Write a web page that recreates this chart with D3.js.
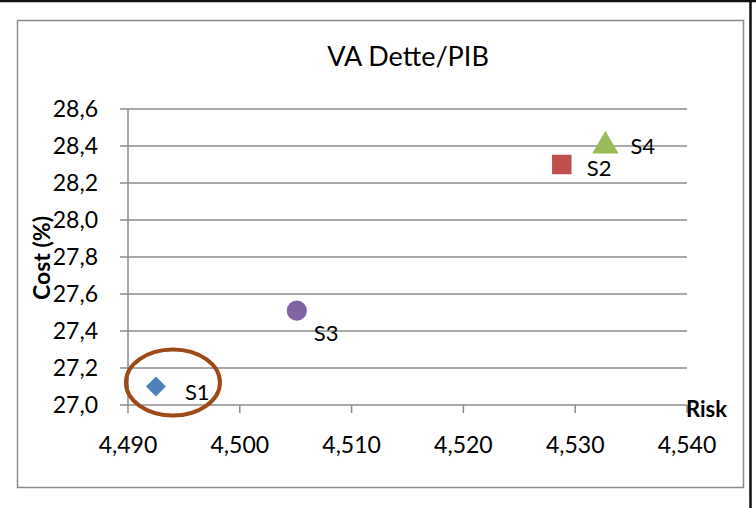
<!DOCTYPE html>
<html>
<head>
<meta charset="utf-8">
<script src="https://cdn.jsdelivr.net/npm/d3@7"></script>
<style>
  body { margin: 0; background: #fff; }
  svg { display: block; font-family: Lato, "Open Sans", sans-serif; }
</style>
</head>
<body>
<div id="chart"></div>
<script>
// Datos del grafico
const series = ["S1", "S2", "S3", "S4"];
const risk = [4.4925, 4.5288, 4.5051, 4.5327];
const cost = [27.10, 28.30, 27.51, 28.40];
const xTicks = [4.49, 4.50, 4.51, 4.52, 4.53, 4.54];
const yTicks = [27.0, 27.2, 27.4, 27.6, 27.8, 28.0, 28.2, 28.4, 28.6];

const colores = ["#4f81bd", "#c0504d", "#8064a2", "#9bbb59"];
const simbolos = [d3.symbolSquare, d3.symbolSquare, d3.symbolCircle, d3.symbolTriangle];
const rotacion = [45, 0, 0, 0];
const tamanos = [200, 380, 320, 300];
const labelOffset = [[29, 13], [25, 11], [17, 30], [25, 8]];

const WIDTH = 756;
const HEIGHT = 508;
const PLOT = { left: 128, right: 687, top: 109, bottom: 405 };

const fmt = d => d3.format(",.3f")(d).replace(".", ",");
const fmtY = d => d3.format(".1f")(d).replace(".", ",");

const svg = d3.select("#chart")
    .append("svg")
    .attr("width", WIDTH)
    .attr("height", HEIGHT);

// marco exterior
svg.append("rect")
    .attr("x", 17.5).attr("y", 20.5)
    .attr("width", 726).attr("height", 467)
    .attr("fill", "#fff")
    .attr("stroke", "#8c8c8c")
    .attr("stroke-width", 1.5);

svg.append("line")
    .attr("x1", 0).attr("x2", WIDTH).attr("y1", 1).attr("y2", 1)
    .attr("stroke", "#111").attr("stroke-width", 2.5);
svg.append("line")
    .attr("x1", 750.5).attr("x2", 750.5).attr("y1", 0).attr("y2", HEIGHT)
    .attr("stroke", "#111").attr("stroke-width", 2.5);

const x = d3.scaleLinear().domain([4.49, 4.54]).range([PLOT.left, PLOT.right]);
const y = d3.scaleLinear().domain([27.0, 28.6]).range([PLOT.bottom, PLOT.top]);

// lineas de grilla
svg.append("g")
    .selectAll("line")
    .data(yTicks)
    .join("line")
    .attr("x1", PLOT.left - 8)
    .attr("x2", PLOT.right)
    .attr("y1", d => y(d))
    .attr("y2", d => y(d))
    .attr("stroke", "#8c8c8c")
    .attr("stroke-width", 1.5);

// eje Y
svg.append("line")
    .attr("x1", PLOT.left).attr("x2", PLOT.left)
    .attr("y1", PLOT.top).attr("y2", PLOT.bottom)
    .attr("stroke", "#8c8c8c").attr("stroke-width", 1.5);

svg.append("g")
    .selectAll("text")
    .data(yTicks)
    .join("text")
    .attr("x", PLOT.left - 30)
    .attr("y", d => y(d) + 8)
    .attr("text-anchor", "end")
    .attr("font-size", 23)
    .attr("fill", "#000")
    .text(fmtY);

// eje X
svg.append("g")
    .selectAll("line")
    .data(xTicks)
    .join("line")
    .attr("x1", d => x(d)).attr("x2", d => x(d))
    .attr("y1", PLOT.bottom).attr("y2", PLOT.bottom + 8)
    .attr("stroke", "#8c8c8c").attr("stroke-width", 1.5);

svg.append("g")
    .selectAll("text")
    .data(xTicks)
    .join("text")
    .attr("x", d => x(d))
    .attr("y", PLOT.bottom + 48)
    .attr("text-anchor", "middle")
    .attr("font-size", 23)
    .attr("fill", "#000")
    .text(fmt);

// titulos
svg.append("text")
    .attr("x", 408).attr("y", 66)
    .attr("text-anchor", "middle")
    .attr("font-size", 27)
    .text("VA Dette/PIB");

svg.append("text")
    .attr("x", 727).attr("y", 417)
    .attr("text-anchor", "end")
    .attr("font-size", 22)
    .attr("font-weight", "bold")
    .text("Risk");

svg.append("text")
    .attr("transform", "translate(50, 258) rotate(-90)")
    .attr("text-anchor", "middle")
    .attr("font-size", 23)
    .attr("font-weight", "bold")
    .text("Cost (%)");

// puntos
const puntos = series.map((s, i) => ({ s, rx: risk[i], c: cost[i], i }));

svg.append("g")
    .selectAll("path")
    .data(puntos)
    .join("path")
    .attr("transform", d => `translate(${x(d.rx)}, ${y(d.c)}) rotate(${rotacion[d.i]})`)
    .attr("d", d => d3.symbol().type(simbolos[d.i]).size(tamanos[d.i])())
    .attr("fill", d => colores[d.i]);

svg.append("g")
    .selectAll("text")
    .data(puntos)
    .join("text")
    .attr("x", d => x(d.rx) + labelOffset[d.i][0])
    .attr("y", d => y(d.c) + labelOffset[d.i][1])
    .attr("font-size", 22)
    .text(d => d.s);

// elipse alrededor de S1
svg.append("ellipse")
    .attr("cx", x(risk[0]) + 17)
    .attr("cy", y(cost[0]) - 4)
    .attr("rx", 47)
    .attr("ry", 33)
    .attr("fill", "none")
    .attr("stroke", "#9c4a17")
    .attr("stroke-width", 4);
</script>
</body>
</html>
